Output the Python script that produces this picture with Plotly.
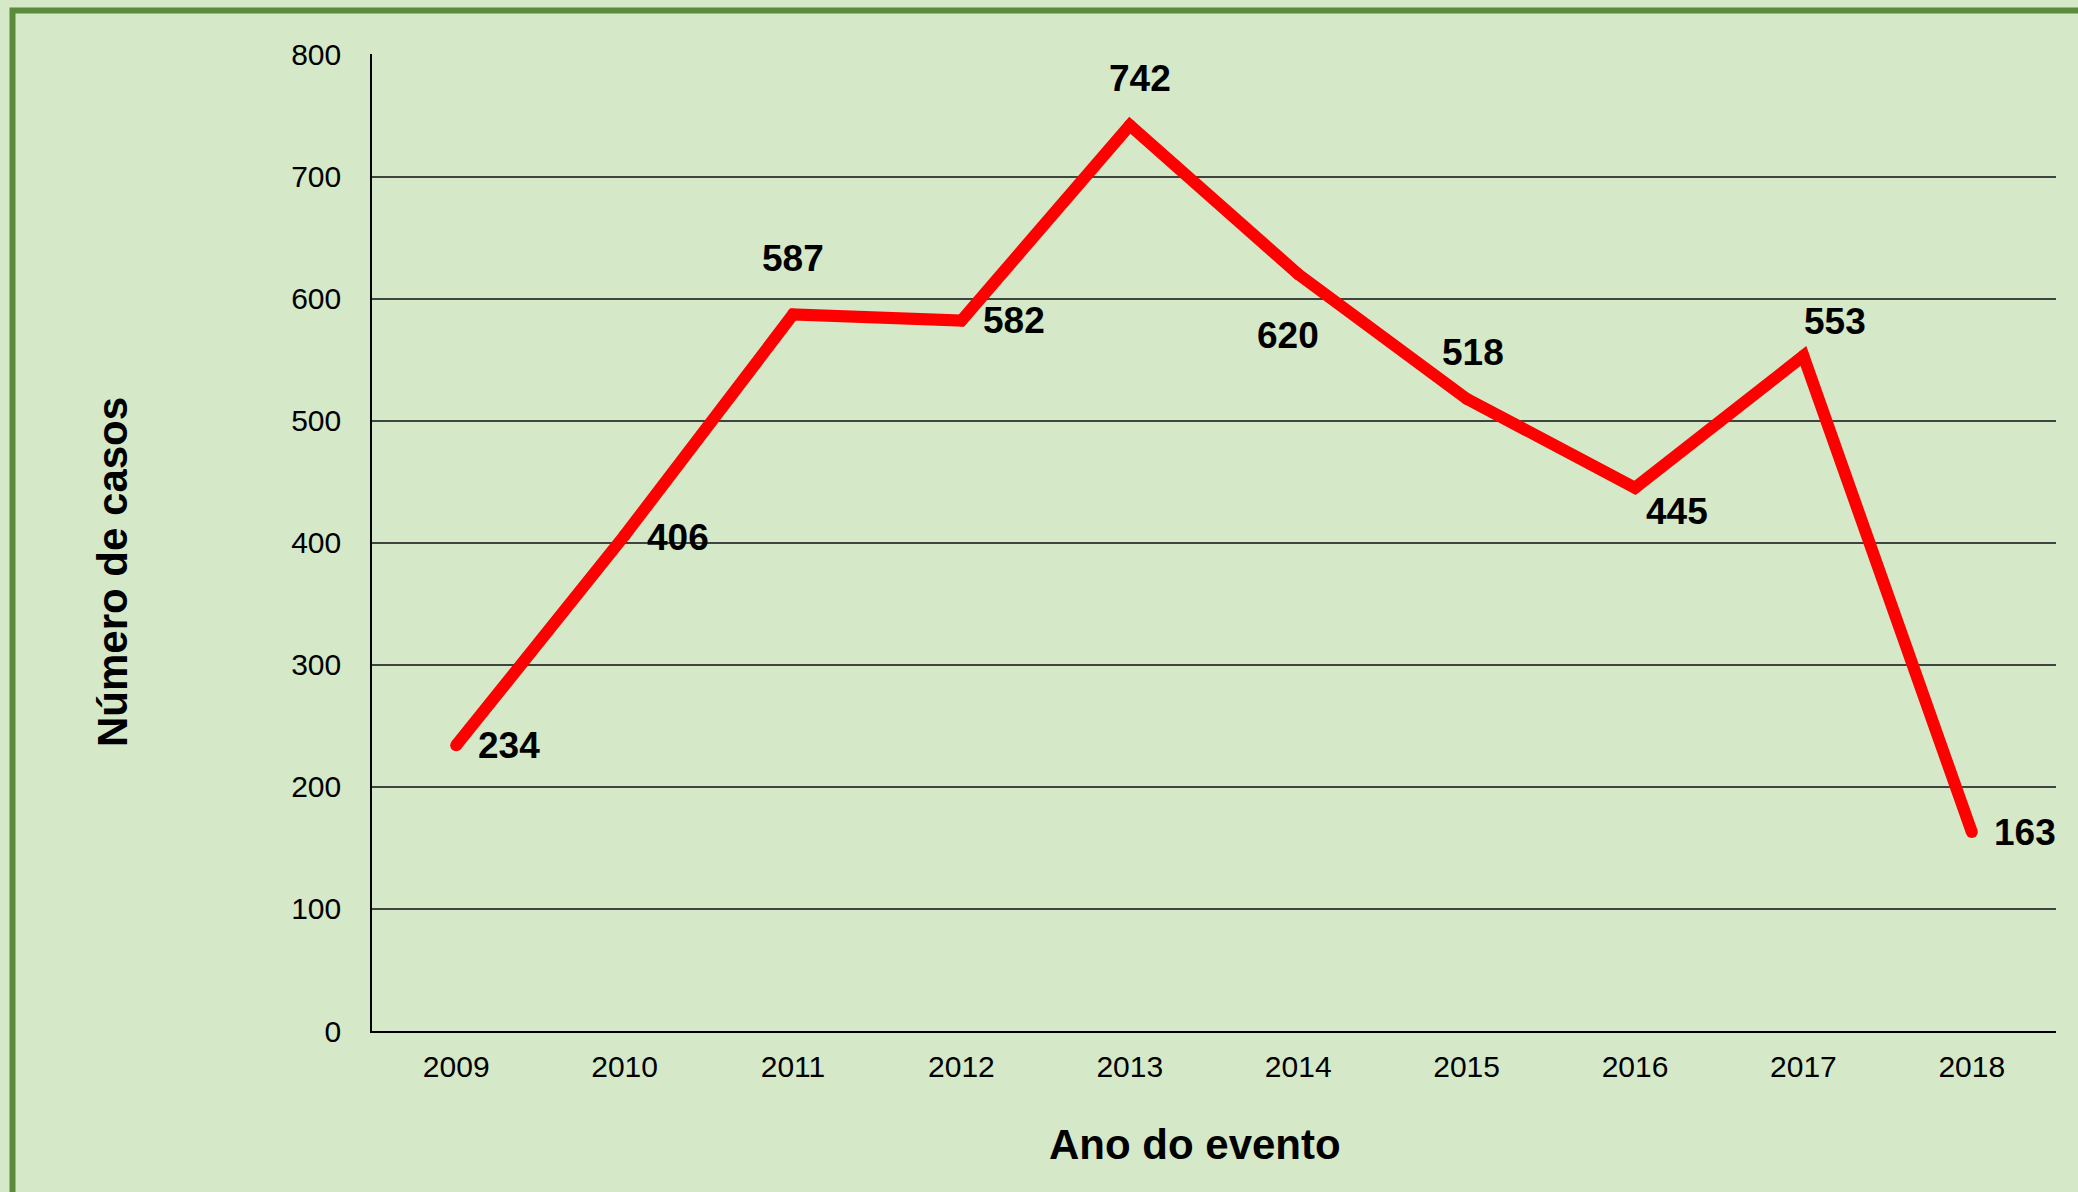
"""Número de casos por ano do evento, 2009-2018."""

import plotly.graph_objects as go

anos = ["2009", "2010", "2011", "2012", "2013", "2014", "2015", "2016", "2017", "2018"]
casos = [234, 406, 587, 582, 742, 620, 518, 445, 553, 163]

# label offsets in pixels (x, y), Excel-style placement around each point
label_shift = [(53, 0), (53, -2), (0, 56), (53, 0), (10, 47),
               (-10, -61), (6, 46), (42, -24), (32, 34), (53, 0)]

BG = "#D5E8C8"
FONT = "Liberation Sans, Arial, sans-serif"

fig = go.Figure(
    go.Scatter(
        x=anos,
        y=casos,
        mode="lines+markers",
        line=dict(color="#FF0000", width=12),
        marker=dict(color="#FF0000", size=12),
        hovertemplate="%{x}: %{y}<extra></extra>",
    )
)

# category axis: annotations placed by category index
for i, (valor, (dx, dy)) in enumerate(zip(casos, label_shift)):
    fig.add_annotation(
        x=i, y=valor, text=f"<b>{valor}</b>", showarrow=False,
        xanchor="center", yanchor="middle", xshift=dx, yshift=dy,
        font=dict(family=FONT, size=37, color="#000000"),
    )

fig.add_annotation(
    text="<b>Ano do evento</b>", xref="paper", yref="paper",
    x=(1195 - 372) / 1684, y=-(1144 - 1031) / 977,
    xanchor="center", yanchor="middle", showarrow=False,
    font=dict(family=FONT, size=42, color="#000000"),
)
fig.add_annotation(
    text="<b>Número de casos</b>", xref="paper", yref="paper",
    x=-(372 - 113) / 1684, y=(1031 - 572) / 977, textangle=-90,
    xanchor="center", yanchor="middle", showarrow=False,
    font=dict(family=FONT, size=42, color="#000000"),
)

# green frame, only left and top edges are visible in the original
fig.add_shape(
    type="rect", xref="paper", yref="paper",
    x0=-(372 - 12.5) / 1684, x1=1.5, y0=-0.5, y1=(1031 - 10.5) / 977,
    line=dict(color="#5A8A3A", width=6), fillcolor="rgba(0,0,0,0)", layer="below",
)

fig.update_layout(
    width=2078,
    height=1192,
    paper_bgcolor=BG,
    plot_bgcolor=BG,
    showlegend=False,
    font=dict(family=FONT, size=30, color="#000000"),
    margin=dict(l=372, r=22, t=54, b=161),
    xaxis=dict(
        type="category",
        range=[-0.5, 9.5],
        showgrid=False,
        showline=True,
        linecolor="#000000",
        linewidth=1.5,
        ticks="",
        ticklabelstandoff=8,
        tickfont=dict(size=30),
        zeroline=False,
    ),
    yaxis=dict(
        range=[0, 800.4],
        tickvals=[0, 100, 200, 300, 400, 500, 600, 700, 800],
        showgrid=True,
        gridcolor="#3F443F",
        gridwidth=1.5,
        showline=True,
        linecolor="#000000",
        linewidth=1.5,
        ticks="",
        ticklabelstandoff=23,
        tickfont=dict(size=30),
        zeroline=False,
    ),
)

fig.write_html(
    "out.html",
    config={"displayModeBar": False},
    post_script="document.body.style.margin='0';document.body.style.background='%s';" % BG,
)
